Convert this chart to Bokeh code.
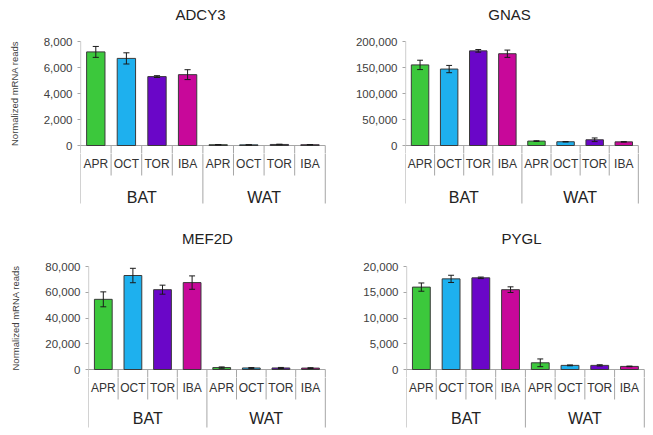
from bokeh.plotting import figure
from bokeh.models import Range1d, FixedTicker, NumeralTickFormatter
from bokeh.layouts import column, row
from bokeh.core.properties import value
from bokeh.embed import file_html
from bokeh.resources import INLINE

# ---------------- data ----------------
groups = ["BAT", "WAT"]
treatments = ["APR", "OCT", "TOR", "IBA"]
colors = ["#3cc83c", "#1eb0ee", "#6a06c8", "#c8089a"]

adcy3_mean = [7200, 6700, 5300, 5450, 60, 50, 80, 60]
adcy3_err = [420, 430, 70, 380, 15, 10, 20, 15]
adcy3_ticks = [0, 2000, 4000, 6000, 8000]

gnas_mean = [155000, 147000, 182000, 176500, 8500, 7200, 11000, 7000]
gnas_err = [9000, 7000, 2500, 7000, 600, 400, 3500, 500]
gnas_ticks = [0, 50000, 100000, 150000, 200000]

mef2d_mean = [54500, 73000, 62000, 67500, 1500, 1200, 1200, 1100]
mef2d_err = [5800, 5600, 3500, 5200, 500, 300, 400, 300]
mef2d_ticks = [0, 20000, 40000, 60000, 80000]

pygl_mean = [16000, 17600, 17800, 15500, 1300, 800, 800, 600]
pygl_err = [800, 700, 150, 550, 750, 80, 120, 60]
pygl_ticks = [0, 5000, 10000, 15000, 20000]

ylabel_text = "Normalized mRNA reads"

FONT = "Liberation Sans"
AXIS_GRAY = "#a6a6a6"
PAD = 8      # px below zero kept inside the value frame
TOPX = 8     # px above the top tick kept inside the value frame
BELOW = 58   # px of the category table under the axis


def bare(frame_w, frame_h, xr, yr, b_left, b_right, b_bottom=0):
    f = figure(frame_width=frame_w, frame_height=frame_h, x_range=xr, y_range=yr,
               x_axis_location=None, y_axis_location=None,
               output_backend="svg", toolbar_location=None,
               min_border_left=b_left, min_border_right=b_right,
               min_border_top=0, min_border_bottom=b_bottom)
    f.outline_line_color = None
    f.grid.grid_line_color = None
    return f


def panel(title, means, errs, ticks, frame_w, px_top, b_left, b_right, b_top, b_bottom,
          title_x, title_y, ylabel=False, ylabel_standoff=21, group_dy=51):
    ymax = ticks[-1]
    px = ymax / px_top          # data units per pixel
    n = len(means)
    xr = Range1d(0, n + 0.04)

    # ---- title strip (pixel units) ----
    th = b_top - TOPX
    t = bare(frame_w, th, Range1d(0, frame_w), Range1d(-th, 0), b_left, b_right)
    t.text(x=[title_x], y=[-title_y], text=[title], text_align="center",
           text_baseline="middle", text_font=value(FONT), text_font_size="15px",
           text_color="#222222")

    # ---- value part ----
    p = figure(frame_width=frame_w, frame_height=px_top + PAD + TOPX,
               x_range=xr, y_range=Range1d(-PAD * px, ymax + TOPX * px),
               x_axis_location=None, output_backend="svg", toolbar_location=None,
               min_border_left=b_left, min_border_right=b_right,
               min_border_top=0, min_border_bottom=0)
    p.outline_line_color = None
    p.grid.grid_line_color = None

    ax = p.yaxis[0]
    ax.ticker = FixedTicker(ticks=ticks)
    ax.formatter = NumeralTickFormatter(format="0,0")
    ax.axis_line_color = None
    ax.major_tick_line_color = AXIS_GRAY
    ax.major_tick_out = 3
    ax.major_tick_in = 0
    ax.minor_tick_line_color = None
    ax.major_label_text_font = FONT
    ax.major_label_text_font_size = "11.5px"
    ax.major_label_text_color = "#404040"
    ax.major_label_standoff = 5
    if ylabel:
        ax.axis_label = ylabel_text
        ax.axis_label_text_font = FONT
        ax.axis_label_text_font_size = "9.5px"
        ax.axis_label_text_font_style = "normal"
        ax.axis_label_text_color = "#404040"
        ax.axis_label_standoff = ylabel_standoff

    xs = [i + 0.5 for i in range(n)]
    cols = colors * (n // len(colors))
    labels = treatments * len(groups)
    gsep = [0, n // 2, n]
    csep = [i for i in range(1, n) if i != n // 2]
    seps = gsep + csep

    # value axis line (from the top tick down into the table)
    p.segment(x0=[0.004], y0=[ymax], x1=[0.004], y1=[0], line_color=AXIS_GRAY, line_width=1)
    p.segment(x0=[0], y0=[0], x1=[n], y1=[0], line_color=AXIS_GRAY, line_width=1)
    p.segment(x0=seps, y0=[0] * len(seps), x1=seps, y1=[-(PAD + 2) * px] * len(seps),
              line_color=AXIS_GRAY, line_width=1)

    p.vbar(x=xs, top=means, bottom=0, width=0.6, fill_color=cols,
           line_color="#3a3a3a", line_width=1)

    lo = [m - e for m, e in zip(means, errs)]
    hi = [m + e for m, e in zip(means, errs)]
    p.segment(x0=xs, y0=lo, x1=xs, y1=hi, line_color="#1a1a1a", line_width=1)
    p.segment(x0=[x - 0.1 for x in xs], y0=lo, x1=[x + 0.1 for x in xs], y1=lo,
              line_color="#1a1a1a", line_width=1)
    p.segment(x0=[x - 0.1 for x in xs], y0=hi, x1=[x + 0.1 for x in xs], y1=hi,
              line_color="#1a1a1a", line_width=1)

    # ---- category table part (pixel units) ----
    q = bare(frame_w, BELOW - PAD, xr, Range1d(-BELOW, -PAD), b_left, b_right, b_bottom)
    q.segment(x0=gsep, y0=[0] * 3, x1=gsep, y1=[-BELOW - 4] * 3,
              line_color=AXIS_GRAY, line_width=1)
    q.segment(x0=csep, y0=[0] * len(csep), x1=csep, y1=[-30] * len(csep),
              line_color=AXIS_GRAY, line_width=1)
    q.text(x=xs, y=[-18] * n, text=labels, text_align="center",
           text_baseline="middle", text_font=value(FONT), text_font_size="12px",
           text_color="#333333")
    gx = [n / 4, 3 * n / 4]
    q.text(x=gx, y=[-group_dy] * 2, text=groups, text_align="center",
           text_baseline="middle", text_font=value(FONT), text_font_size="16px",
           text_color="#222222")
    return column(t, p, q, spacing=0)


c1 = panel("ADCY3", adcy3_mean, adcy3_err, adcy3_ticks, 246, 104, 80, 0, 41, 12,
           120, 14, ylabel=True, ylabel_standoff=21, group_dy=52)
c2 = panel("GNAS", gnas_mean, gnas_err, gnas_ticks, 234, 104, 79, 13, 41, 12,
           104, 14, group_dy=52)
c3 = panel("MEF2D", mef2d_mean, mef2d_err, mef2d_ticks, 238, 103, 88, 0, 51, 6,
           119, 23, ylabel=True, ylabel_standoff=21, group_dy=49)
c4 = panel("PYGL", pygl_mean, pygl_err, pygl_ticks, 239, 103, 80, 7, 51, 6,
           115, 23, group_dy=49)

layout = column(row(c1, c2, spacing=0), row(c3, c4, spacing=0), spacing=0)
open("out.html", "w").write(file_html(layout, INLINE))
